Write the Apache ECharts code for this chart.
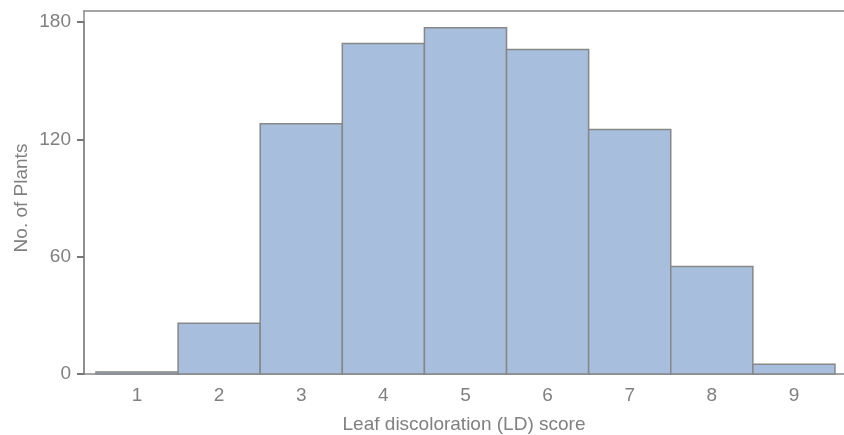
<!DOCTYPE html>
<html>
<head>
<meta charset="utf-8">
<script src="https://cdn.jsdelivr.net/npm/echarts@6/dist/echarts.min.js"></script>
<style>html,body{margin:0;padding:0;background:#fff;}#c{width:844px;height:435px;}</style>
</head>
<body>
<div id="c"></div>
<script>
var scores = [1, 2, 3, 4, 5, 6, 7, 8, 9];
var plants = [1, 26, 128, 169, 177, 166, 125, 55, 5];
var yTicks = [0, 60, 120, 180];

var txt = '#808080';
var axisCol = '#888';
var font = 'Liberation Sans';
var chart = echarts.init(document.getElementById('c'));
chart.setOption({
  animation: false,
  grid: [
    {left: 84, right: 0, top: 22, bottom: 61, outerBoundsMode: 'none', containLabel: false},
    {left: 84, right: 0, top: 11, bottom: 61, outerBoundsMode: 'none', containLabel: false}
  ],
  xAxis: [{
    gridIndex: 0, type: 'value', min: 0.354, max: 9.61,
    name: 'Leaf discoloration (LD) score', nameLocation: 'middle', nameGap: 41,
    nameTextStyle: {color: txt, fontSize: 19, fontFamily: font},
    axisLine: {show: true, onZero: false, lineStyle: {color: axisCol, width: 1.5}},
    axisTick: {show: false},
    splitLine: {show: false},
    axisLabel: {customValues: scores, color: txt, fontSize: 19, fontFamily: font, margin: 12}
  }, {
    gridIndex: 1, type: 'value', position: 'top', min: 0, max: 1,
    axisLine: {show: true, onZero: false, lineStyle: {color: axisCol, width: 1.5}},
    axisTick: {show: false}, axisLabel: {show: false}, splitLine: {show: false}
  }],
  yAxis: [{
    gridIndex: 0, type: 'value', min: yTicks[0], max: yTicks[yTicks.length - 1], interval: 60,
    name: 'No. of Plants', nameLocation: 'middle', nameGap: 53, nameMoveOverlap: false,
    nameTextStyle: {color: txt, fontSize: 19, fontFamily: font},
    axisLine: {show: true, onZero: false, lineStyle: {color: axisCol, width: 1.5}},
    axisTick: {show: true, inside: false, length: 7, lineStyle: {color: '#777777', width: 2}},
    splitLine: {show: false},
    axisLabel: {color: txt, fontSize: 19, fontFamily: font, margin: 13}
  }, {
    gridIndex: 1, type: 'value', min: 0, max: 1,
    axisLine: {show: true, onZero: false, lineStyle: {color: axisCol, width: 1.5}},
    axisTick: {show: false}, axisLabel: {show: false}, splitLine: {show: false}
  }],
  series: [{
    type: 'custom', xAxisIndex: 0, yAxisIndex: 0,
    data: scores.map(function (s, i) { return [s, plants[i]]; }),
    renderItem: function (params, api) {
      var x = api.value(0), y = api.value(1);
      var p0 = api.coord([x - 0.5, y]);
      var p1 = api.coord([x + 0.5, 0]);
      return {
        type: 'rect',
        shape: {x: p0[0], y: p0[1], width: p1[0] - p0[0], height: p1[1] - p0[1]},
        style: {fill: '#a7bfdd', stroke: '#878787', lineWidth: 1.5}
      };
    }
  }]
});
</script>
</body>
</html>
